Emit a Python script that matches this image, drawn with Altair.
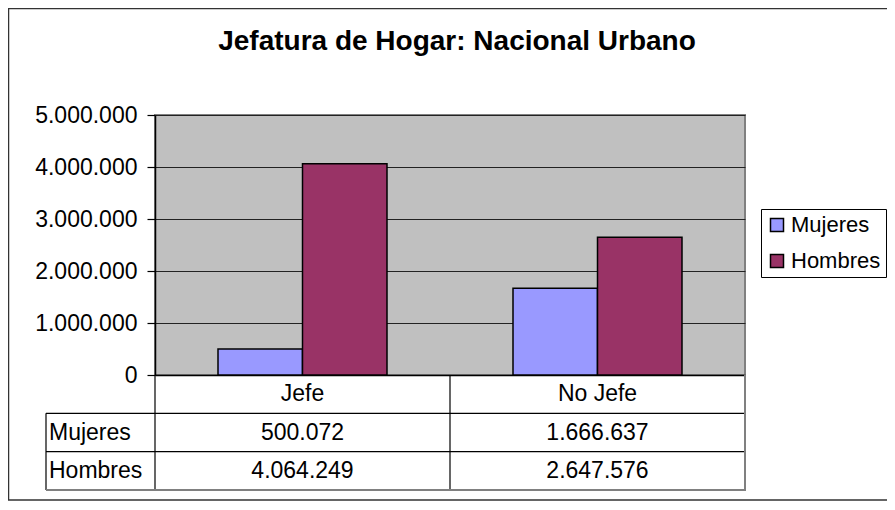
import altair as alt
import pandas as pd

# ---- data ----
categorias = ["Jefe", "No Jefe"]
series = ["Mujeres", "Hombres"]
mujeres = [500072, 1666637]
hombres = [4064249, 2647576]
colores = ["#9999FF", "#993366"]
ticks_y = [0, 1000000, 2000000, 3000000, 4000000, 5000000]
titulo = "Jefatura de Hogar: Nacional Urbano"
filas_tabla = ["cab", "Mujeres", "Hombres"]


def fmt(v):
    return f"{v:,}".replace(",", ".")


rows = []
for s, vals in zip(series, [mujeres, hombres]):
    for c, v in zip(categorias, vals):
        rows.append({"categoria": c, "serie": s, "valor": v, "texto": fmt(v)})
df = pd.DataFrame(rows)

tabla = pd.concat([
    pd.DataFrame({"categoria": categorias, "fila": ["cab"] * len(categorias), "texto": categorias}),
    pd.DataFrame({"categoria": df["categoria"], "fila": df["serie"], "texto": df["texto"]}),
], ignore_index=True)

FONT = "Liberation Sans"
FS = 23
W, H = 590, 260

x_scale = alt.Scale(domain=categorias, paddingInner=0, paddingOuter=0)
x_axis = alt.Axis(labels=False, ticks=False, title=None, domainColor="black",
                  domainWidth=1.5, grid=False)
y_tab = alt.Scale(domain=filas_tabla, range=[H, H + 115], paddingInner=0, paddingOuter=0)

bars = alt.Chart(df).mark_bar(stroke="black", strokeWidth=1.5).encode(
    x=alt.X("categoria:N", scale=x_scale, sort=categorias, axis=x_axis),
    xOffset=alt.XOffset("serie:N", sort=series,
                        scale=alt.Scale(domain=series, paddingInner=0, paddingOuter=0.7456)),
    y=alt.Y("valor:Q", scale=alt.Scale(domain=[0, 5000000], nice=False),
            axis=alt.Axis(values=ticks_y, title=None,
                          labelExpr="replace(replace(format(datum.value, ','), ',', '.'), ',', '.')",
                          labelFont=FONT, labelFontSize=FS, labelColor="black",
                          labelPadding=10, tickSize=8, tickColor="black", tickWidth=1.2,
                          domainColor="black", domainWidth=1.5,
                          grid=True, gridColor="#222222", gridWidth=1.2)),
    color=alt.Color("serie:N", sort=series,
                    scale=alt.Scale(domain=series, range=colores),
                    legend=alt.Legend(title=None, orient="none", legendX=606, legendY=94,
                                      direction="vertical", strokeColor="black",
                                      fillColor="white", padding=5, cornerRadius=0,
                                      labelFont=FONT, labelFontSize=22, labelColor="black",
                                      symbolType="square", symbolSize=169,
                                      symbolStrokeColor="black", symbolStrokeWidth=1.5,
                                      rowPadding=14, labelOffset=3)),
)

# ---- data table under the plot ----
tab_text = alt.Chart(tabla).mark_text(font=FONT, fontSize=FS, color="black",
                                      align="center", baseline="middle").encode(
    x=alt.X("categoria:N", scale=x_scale, sort=categorias, axis=x_axis),
    y=alt.Y("fila:N", scale=y_tab, axis=None),
    text="texto:N",
)

tab_left = alt.Chart(pd.DataFrame({"fila": series})).mark_text(
    font=FONT, fontSize=FS, color="black", align="left", baseline="middle").encode(
    x=alt.value(-106),
    y=alt.Y("fila:N", scale=y_tab, axis=None),
    text="fila:N",
)

h_lines = alt.Chart(pd.DataFrame({"fila": series})).mark_rule(color="black", strokeWidth=1.2).encode(
    y=alt.Y("fila:N", scale=y_tab, axis=None, bandPosition=0),
    x=alt.value(-109), x2=alt.value(W),
)
bottom_line = alt.Chart(pd.DataFrame({"fila": ["Hombres"]})).mark_rule(color="#808080", strokeWidth=2).encode(
    y=alt.Y("fila:N", scale=y_tab, axis=None, bandPosition=1),
    x=alt.value(-109), x2=alt.value(W + 1),
)
v_lines = alt.Chart(pd.DataFrame({"categoria": categorias})).mark_rule(color="black", strokeWidth=1.2).encode(
    x=alt.X("categoria:N", scale=x_scale, sort=categorias, axis=x_axis, bandPosition=0),
    y=alt.value(H), y2=alt.value(H + 115),
)
right_line = alt.Chart(pd.DataFrame({"categoria": ["No Jefe"]})).mark_rule(color="#808080", strokeWidth=2).encode(
    x=alt.X("categoria:N", scale=x_scale, sort=categorias, axis=x_axis, bandPosition=1),
    y=alt.value(H), y2=alt.value(H + 115),
)
left_col = alt.Chart(pd.DataFrame({"fila": ["Mujeres"]})).mark_rule(color="black", strokeWidth=1.2).encode(
    y=alt.Y("fila:N", scale=y_tab, axis=None, bandPosition=0),
    y2=alt.value(H + 115),
    x=alt.value(-109),
)

table = alt.layer(h_lines, v_lines, left_col, bottom_line, right_line, tab_text, tab_left)

border = alt.Chart(pd.DataFrame({"a": [0]})).mark_rect(
    fill="transparent", stroke="#333333", strokeWidth=1.5).encode(
    x=alt.value(-146.5), x2=alt.value(800), y=alt.value(-106.5), y2=alt.value(385),
)

chart = alt.layer(border, bars, table).resolve_scale(y="independent").properties(
    width=W, height=H,
    autosize=alt.AutoSizeParams(type="none"),
    padding={"left": 147, "top": 107, "right": 142, "bottom": 127},
    title=alt.TitleParams(titulo, font=FONT, fontSize=28, fontWeight="bold",
                          anchor="middle", offset=-70, baseline="alphabetic",
                          dx=7, color="black"),
).configure(
    background="white",
    view=alt.ViewConfig(fill="#C0C0C0", stroke="#808080", strokeWidth=2),
)

chart.save("out.html", embed_options={"renderer": "svg", "actions": False})
